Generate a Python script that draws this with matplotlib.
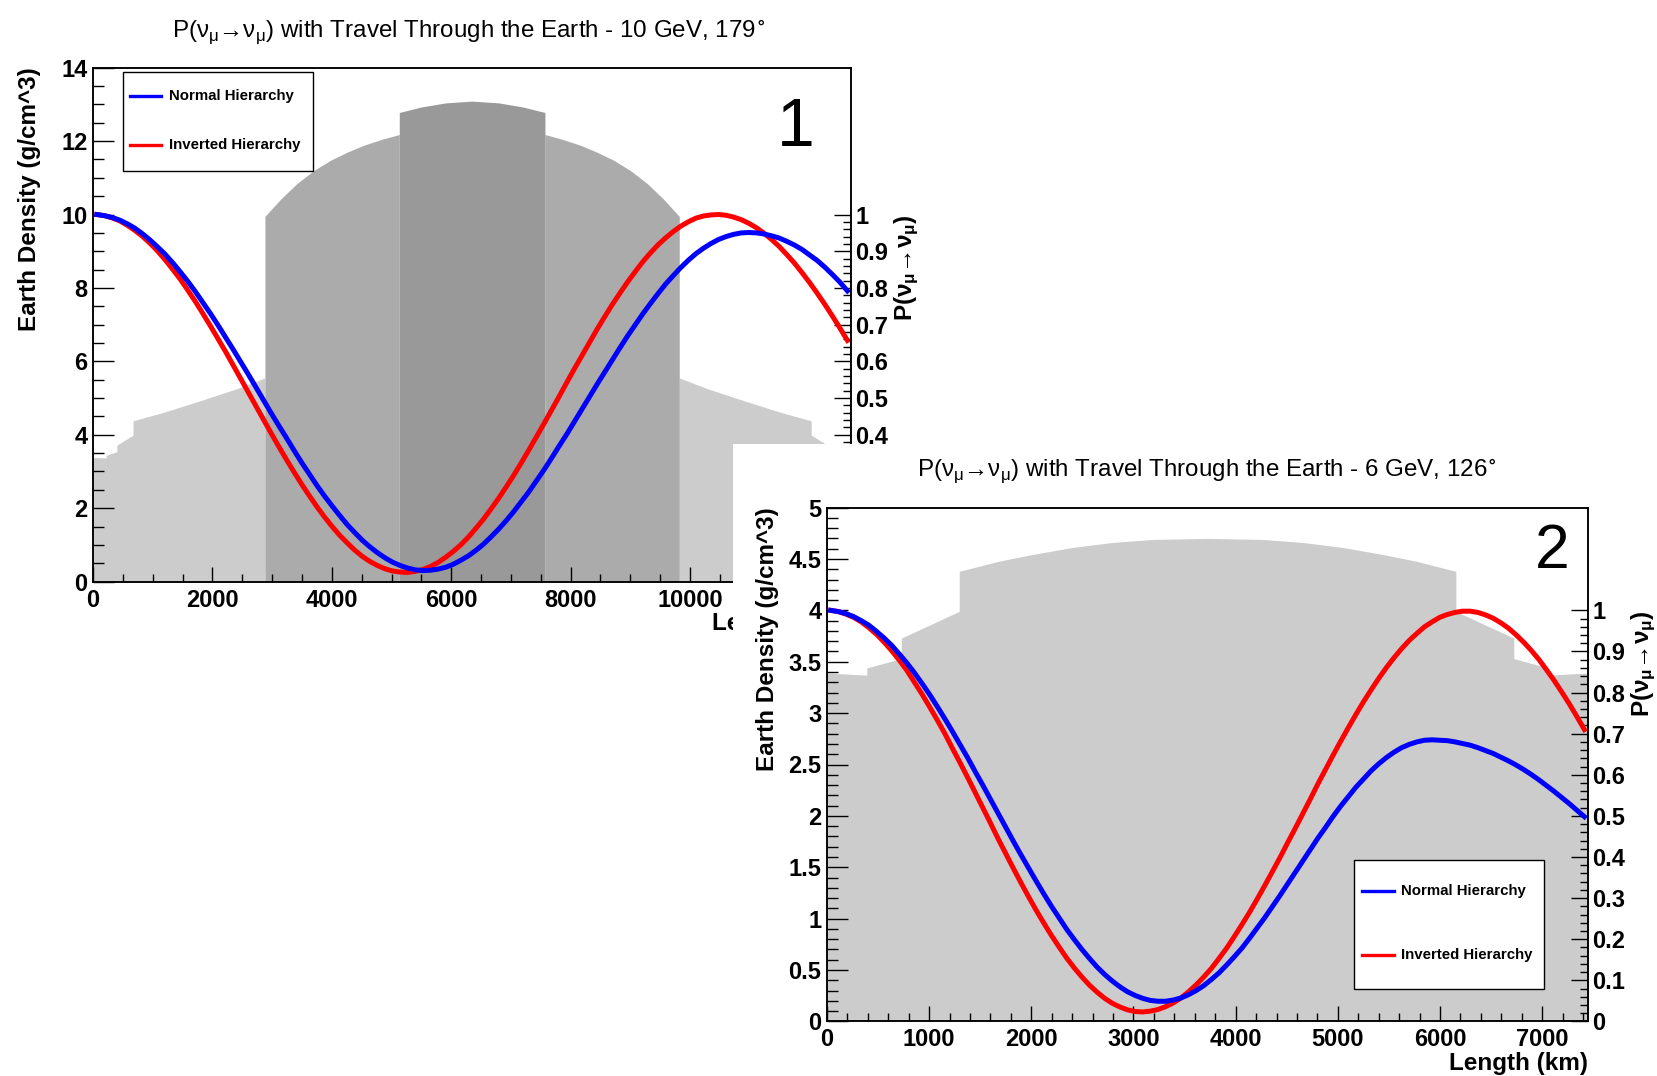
import numpy as np
import matplotlib
matplotlib.use("Agg")
import matplotlib.pyplot as plt
from matplotlib.ticker import MultipleLocator, FixedLocator, FuncFormatter
from matplotlib.patches import Rectangle
from matplotlib.lines import Line2D

plt.rcParams['font.family'] = ['Liberation Sans', 'DejaVu Sans']
plt.rcParams['font.weight'] = 'bold'

W, H = 1658, 1076

# ---------------- panel 1 : 10 GeV, 179 deg (path through the core) ----------------
len1_max = 12700
n_bins = 100

p1_normal = [
    1.000, 0.997, 0.992, 0.985, 0.975, 0.963, 0.948, 0.931, 0.912, 0.892,
    0.869, 0.844, 0.818, 0.790, 0.760, 0.730, 0.698, 0.665, 0.632, 0.598,
    0.564, 0.529, 0.494, 0.459, 0.425, 0.392, 0.358, 0.325, 0.294, 0.263,
    0.234, 0.207, 0.181, 0.156, 0.134, 0.113, 0.095, 0.079, 0.065, 0.053,
    0.044, 0.037, 0.032, 0.030, 0.031, 0.034, 0.039, 0.047, 0.058, 0.070,
    0.085, 0.102, 0.122, 0.143, 0.166, 0.191, 0.218, 0.245, 0.275, 0.305,
    0.337, 0.370, 0.402, 0.436, 0.470, 0.504, 0.538, 0.571, 0.604, 0.637,
    0.669, 0.699, 0.729, 0.757, 0.784, 0.810, 0.833, 0.855, 0.875, 0.893,
    0.908, 0.921, 0.932, 0.940, 0.946, 0.950, 0.951, 0.950, 0.947, 0.942,
    0.936, 0.927, 0.917, 0.905, 0.890, 0.875, 0.857, 0.837, 0.816, 0.792]

p1_inverted = [
    1.000, 0.997, 0.991, 0.983, 0.971, 0.957, 0.941, 0.922, 0.901, 0.877,
    0.851, 0.824, 0.794, 0.763, 0.730, 0.696, 0.661, 0.626, 0.589, 0.552,
    0.515, 0.478, 0.441, 0.404, 0.368, 0.333, 0.299, 0.266, 0.235, 0.205,
    0.177, 0.151, 0.127, 0.106, 0.086, 0.069, 0.055, 0.044, 0.035, 0.029,
    0.026, 0.025, 0.028, 0.033, 0.041, 0.052, 0.066, 0.082, 0.100, 0.121,
    0.145, 0.170, 0.198, 0.227, 0.258, 0.290, 0.324, 0.359, 0.395, 0.431,
    0.468, 0.505, 0.543, 0.580, 0.616, 0.652, 0.688, 0.722, 0.755, 0.786,
    0.816, 0.844, 0.871, 0.895, 0.917, 0.936, 0.953, 0.968, 0.980, 0.990,
    0.996, 0.999, 1.000, 0.998, 0.993, 0.986, 0.976, 0.964, 0.949, 0.932,
    0.913, 0.891, 0.868, 0.842, 0.815, 0.786, 0.756, 0.724, 0.691, 0.657]

# density along the path (km, g/cm^3)
mantle1_in_x = [0, 220, 220, 400, 400, 670, 670, 1200, 1800, 2400, 2880]
mantle1_in_d = [3.38, 3.37, 3.44, 3.54, 3.72, 3.99, 4.38, 4.62, 4.93, 5.25, 5.55]
mantle1_out_x = [9820, 10300, 10900, 11500, 12030, 12030, 12300, 12300, 12480, 12480, 12700]
mantle1_out_d = [5.55, 5.25, 4.93, 4.62, 4.38, 3.99, 3.72, 3.54, 3.44, 3.37, 3.38]
outer1_in_x = [2880, 3150, 3420, 3700, 3980, 4260, 4540, 4840, 5130]
outer1_in_d = [9.95, 10.43, 10.85, 11.20, 11.48, 11.70, 11.89, 12.05, 12.18]
outer1_out_x = [7570, 7860, 8160, 8440, 8720, 9000, 9280, 9550, 9820]
outer1_out_d = [12.18, 12.05, 11.89, 11.70, 11.48, 11.20, 10.85, 10.43, 9.95]
inner1_x = [5130, 5500, 5900, 6350, 6800, 7200, 7570]
inner1_d = [12.78, 12.93, 13.04, 13.09, 13.04, 12.93, 12.78]

# ---------------- panel 2 : 6 GeV, 126 deg (mantle only) ----------------
len2_max = 7450

p2_normal = [
    1.000, 0.997, 0.992, 0.985, 0.975, 0.964, 0.949, 0.933, 0.915, 0.894,
    0.872, 0.848, 0.822, 0.795, 0.766, 0.736, 0.705, 0.673, 0.641, 0.607,
    0.574, 0.540, 0.506, 0.472, 0.438, 0.405, 0.373, 0.341, 0.310, 0.280,
    0.252, 0.224, 0.199, 0.175, 0.153, 0.132, 0.114, 0.098, 0.084, 0.072,
    0.063, 0.056, 0.051, 0.049, 0.049, 0.052, 0.057, 0.065, 0.075, 0.087,
    0.102, 0.118, 0.137, 0.157, 0.178, 0.202, 0.227, 0.252, 0.279, 0.306,
    0.334, 0.362, 0.390, 0.418, 0.446, 0.472, 0.499, 0.524, 0.547, 0.570,
    0.590, 0.610, 0.627, 0.642, 0.655, 0.666, 0.674, 0.680, 0.684, 0.685,
    0.684, 0.683, 0.680, 0.676, 0.672, 0.666, 0.659, 0.652, 0.643, 0.634,
    0.624, 0.613, 0.601, 0.588, 0.574, 0.560, 0.545, 0.530, 0.514, 0.498]

p2_inverted = [
    1.000, 0.997, 0.991, 0.983, 0.972, 0.958, 0.942, 0.923, 0.902, 0.879,
    0.854, 0.825, 0.796, 0.765, 0.733, 0.700, 0.664, 0.629, 0.593, 0.556,
    0.519, 0.482, 0.444, 0.408, 0.372, 0.337, 0.303, 0.270, 0.239, 0.209,
    0.181, 0.154, 0.130, 0.108, 0.088, 0.071, 0.056, 0.044, 0.035, 0.028,
    0.024, 0.023, 0.025, 0.029, 0.036, 0.045, 0.057, 0.072, 0.089, 0.108,
    0.129, 0.153, 0.178, 0.206, 0.235, 0.265, 0.297, 0.330, 0.364, 0.398,
    0.434, 0.469, 0.505, 0.541, 0.578, 0.613, 0.648, 0.682, 0.715, 0.747,
    0.778, 0.807, 0.835, 0.861, 0.885, 0.907, 0.927, 0.944, 0.960, 0.972,
    0.983, 0.990, 0.995, 0.998, 0.998, 0.995, 0.989, 0.981, 0.970, 0.957,
    0.941, 0.923, 0.903, 0.881, 0.856, 0.830, 0.802, 0.773, 0.742, 0.710]

mantle2_x = [0, 390, 390, 728, 728, 1295, 1295, 1690, 1990, 2390, 2785, 3185, 3725,
             4265, 4665, 5060, 5460, 5760, 6155, 6155, 6722, 6722, 7060, 7060, 7450]
mantle2_d = [3.39, 3.37, 3.44, 3.53, 3.73, 3.99, 4.38, 4.48, 4.54, 4.61, 4.66, 4.69, 4.70,
             4.69, 4.66, 4.61, 4.54, 4.48, 4.38, 3.99, 3.73, 3.53, 3.44, 3.37, 3.39]

legend_labels = ["Normal Hierarchy", "Inverted Hierarchy"]
title1 = r"P($\mathregular{ν_{μ}}$→$\mathregular{ν_{μ}}$) with Travel Through the Earth - 10 GeV, 179$^{\circ}$"
title2 = r"P($\mathregular{ν_{μ}}$→$\mathregular{ν_{μ}}$) with Travel Through the Earth - 6 GeV, 126$^{\circ}$"
prob_label = r"P($\mathregular{ν_{μ}}$→$\mathregular{ν_{μ}}$)"

BLUE = '#0000ff'
RED = '#ff0000'
LABEL_FS = 17.5
TICK_FS = 17
CURVE_LW = 3.6


def fig_rect(left, top, right, bottom):
    """pixel box (from the top-left corner) -> add_axes rectangle"""
    return [left / W, 1 - bottom / H, (right - left) / W, (bottom - top) / H]


def fmt_g(v, _):
    return f"{v:g}"


def style_panel(ax, ax2, xmaj, xmin, ymaj, ymin):
    ax.xaxis.set_major_locator(MultipleLocator(xmaj))
    ax.xaxis.set_minor_locator(MultipleLocator(xmin))
    ax.yaxis.set_major_locator(MultipleLocator(ymaj))
    ax.yaxis.set_minor_locator(MultipleLocator(ymin))
    ax.xaxis.set_major_formatter(FuncFormatter(fmt_g))
    ax.yaxis.set_major_formatter(FuncFormatter(fmt_g))
    ax.tick_params(axis='x', which='major', direction='in', length=10.5, width=1.0,
                   labelsize=TICK_FS, pad=5, top=False)
    ax.tick_params(axis='x', which='minor', direction='in', length=5.5, width=1.0, top=False)
    ax.tick_params(axis='y', which='major', direction='in', length=15, width=1.0,
                   labelsize=TICK_FS, pad=4, right=False)
    ax.tick_params(axis='y', which='minor', direction='in', length=8, width=1.0, right=False)

    ax2.yaxis.set_major_locator(FixedLocator([round(0.1 * i, 1) for i in range(11)]))
    ax2.yaxis.set_minor_locator(FixedLocator([round(0.02 * i, 2) for i in range(51)]))
    ax2.yaxis.set_major_formatter(FuncFormatter(fmt_g))
    ax2.tick_params(axis='y', which='major', direction='in', length=12, width=1.0,
                    labelsize=TICK_FS, pad=3)
    ax2.tick_params(axis='y', which='minor', direction='in', length=6, width=1.0)
    for a in (ax, ax2):
        for sp in a.spines.values():
            sp.set_linewidth(1.1)


def add_key(ax, box, line_x, text_x, rows_y):
    left, top, right, bottom = box
    tr = ax.figure.transFigure
    ax.add_patch(Rectangle((left / W, 1 - bottom / H), (right - left) / W, (bottom - top) / H,
                           transform=tr, facecolor='white', edgecolor='black', lw=1.0,
                           clip_on=False, zorder=10))
    for y, color, label in zip(rows_y, (BLUE, RED), legend_labels):
        ax.add_line(Line2D([line_x[0] / W, line_x[1] / W], [1 - y / H] * 2, transform=tr,
                           color=color, lw=2.4, clip_on=False, zorder=11))
        ax.text(text_x / W, 1 - y / H, label, transform=tr, fontsize=10.8,
                ha='left', va='center', zorder=11)


def axis_titles(ax, ax2, ylab_x, xlab_y, plab_x):
    ax.text(ylab_x, 1.0, "Earth Density (g/cm^3)", transform=ax.transAxes, rotation=90,
            ha='center', va='top', fontsize=LABEL_FS)
    ax.text(1.0, xlab_y, "Length (km)", transform=ax.transAxes,
            ha='right', va='center', fontsize=LABEL_FS)
    ax2.text(plab_x, 1.0, prob_label, transform=ax2.get_yaxis_transform(), rotation=90,
             ha='center', va='top', fontsize=LABEL_FS)


fig = plt.figure(figsize=(W / 100, H / 100), dpi=100)

# ---- panel 1 ----
ax1 = fig.add_axes(fig_rect(93, 67.7, 851.2, 581.6))
ax1.fill_between(mantle1_in_x, 0, mantle1_in_d, color='#cccccc', lw=0)
ax1.fill_between(mantle1_out_x, 0, mantle1_out_d, color='#cccccc', lw=0)
ax1.fill_between(outer1_in_x, 0, outer1_in_d, color='#ababab', lw=0)
ax1.fill_between(outer1_out_x, 0, outer1_out_d, color='#ababab', lw=0)
ax1.fill_between(inner1_x, 0, inner1_d, color='#999999', lw=0)
ax1.set_xlim(0, len1_max)
ax1.set_ylim(0, 14)

ax1p = ax1.twinx()
edges1 = np.linspace(0, len1_max, n_bins + 1)
centers1 = 0.5 * (edges1[:-1] + edges1[1:])
ax1p.plot(centers1, p1_inverted, color=RED, lw=CURVE_LW)
ax1p.plot(centers1, p1_normal, color=BLUE, lw=CURVE_LW)
ax1p.set_xlim(0, len1_max)
ax1p.set_ylim(0, 1.4)
style_panel(ax1, ax1p, 2000, 500, 2, 0.5)
axis_titles(ax1, ax1p, -0.0831, -0.0825, 1.0736)
ax1.text(0.927, 0.882, "1", transform=ax1.transAxes, fontsize=49, fontweight='normal',
         ha='center', va='center')
add_key(ax1p, (122.7, 71.9, 313.0, 171.3), (130, 161), 169, (96, 145))

# white page of the second plot, laid over the first one
ax_bg = fig.add_axes([733 / W, 0, 1 - 733 / W, (H - 444) / H])
ax_bg.set_xticks([])
ax_bg.set_yticks([])
for sp in ax_bg.spines.values():
    sp.set_visible(False)

# ---- panel 2 ----
ax2 = fig.add_axes(fig_rect(826.9, 507.6, 1588.2, 1021.4))
ax2.fill_between(mantle2_x, 0, mantle2_d, color='#cccccc', lw=0)
ax2.set_xlim(0, len2_max)
ax2.set_ylim(0, 5)

ax2p = ax2.twinx()
edges2 = np.linspace(0, len2_max, n_bins + 1)
centers2 = 0.5 * (edges2[:-1] + edges2[1:])
ax2p.plot(centers2, p2_inverted, color=RED, lw=CURVE_LW)
ax2p.plot(centers2, p2_normal, color=BLUE, lw=CURVE_LW)
ax2p.set_xlim(0, len2_max)
ax2p.set_ylim(0, 1.25)
style_panel(ax2, ax2p, 1000, 200, 0.5, 0.1)
axis_titles(ax2, ax2p, -0.0774, -0.081, 1.0733)
ax2.text(0.9525, 0.915, "2", transform=ax2.transAxes, fontsize=45, fontweight='normal',
         ha='center', va='center')
add_key(ax2p, (1354.5, 859.7, 1543.8, 988.7), (1362, 1394), 1401, (891.4, 954.8))

fig.text(469 / W, 1 - 38 / H, title1, ha='center', va='baseline', fontsize=17.4,
         fontweight='normal')
fig.text(1207 / W, 1 - 477 / H, title2, ha='center', va='baseline', fontsize=17.4,
         fontweight='normal')

fig.savefig("out.png", dpi=100)
